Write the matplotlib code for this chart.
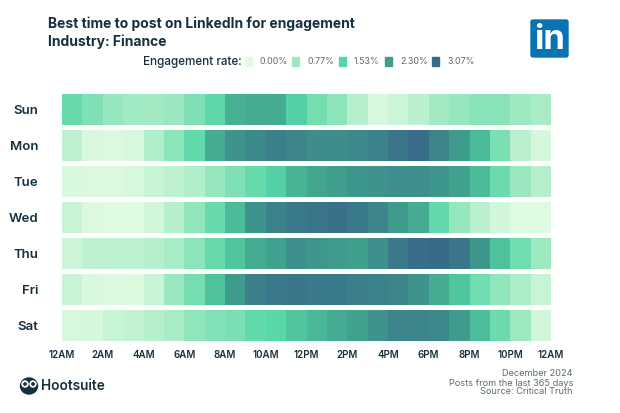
#!/usr/bin/env python3
"""LinkedIn best time to post heatmap, finance industry."""

import matplotlib.pyplot as plt
import numpy as np
from matplotlib.colors import LinearSegmentedColormap
from matplotlib.patches import Ellipse, FancyBboxPatch, Rectangle

FIG_W, FIG_H = 620, 413

days = ['Sun', 'Mon', 'Tue', 'Wed', 'Thu', 'Fri', 'Sat']
hour_labels = ['12AM', '2AM', '4AM', '6AM', '8AM', '10AM', '12PM', '2PM', '4PM', '6PM', '8PM', '10PM', '12AM']
legend_values = [0.00, 0.77, 1.53, 2.30, 3.07]
legend_labels = ['0.00%', '0.77%', '1.53%', '2.30%', '3.07%']
legend_colors = ['#E2FBE2', '#9DE8C0', '#56D6A6', '#3F9E8C', '#38698A']

# Engagement rate per hour
sun = [1.35, 1.10, 0.85, 0.72, 0.70, 0.80, 1.10, 1.45, 2.05, 2.10, 2.10, 1.60, 1.20, 0.95, 0.50, 0.12, 0.25, 0.45, 0.70, 0.85, 1.00, 1.00, 0.75, 0.65]
mon = [0.40, 0.10, 0.08, 0.12, 0.55, 0.95, 1.40, 2.10, 2.45, 2.60, 2.75, 2.65, 2.55, 2.55, 2.60, 2.70, 2.90, 3.00, 2.65, 2.35, 1.90, 1.15, 0.45, 0.15]
tue = [0.10, 0.08, 0.08, 0.12, 0.30, 0.40, 0.55, 0.85, 1.10, 1.35, 1.60, 2.00, 2.20, 2.30, 2.40, 2.45, 2.50, 2.50, 2.40, 2.25, 1.90, 1.30, 0.80, 0.50]
wed = [0.30, 0.08, 0.05, 0.05, 0.20, 0.50, 0.90, 1.35, 1.90, 2.45, 2.70, 2.85, 2.90, 2.95, 2.85, 2.65, 2.35, 2.10, 1.40, 0.85, 0.45, 0.20, 0.05, 0.05]
thu = [0.25, 0.40, 0.40, 0.42, 0.50, 0.65, 0.95, 1.35, 1.75, 2.10, 2.25, 2.50, 2.40, 2.35, 2.30, 2.50, 2.85, 3.00, 3.05, 2.90, 2.40, 1.80, 1.25, 0.75]
fri = [0.30, 0.10, 0.08, 0.06, 0.30, 0.80, 1.20, 1.80, 2.35, 2.75, 2.85, 2.90, 2.85, 2.85, 2.75, 2.70, 2.65, 2.45, 2.10, 1.75, 1.25, 0.90, 0.60, 0.30]
sat = [0.12, 0.15, 0.30, 0.35, 0.50, 0.65, 0.90, 1.05, 1.15, 1.40, 1.50, 1.75, 1.95, 2.10, 2.25, 2.45, 2.65, 2.65, 2.60, 2.35, 1.85, 1.30, 0.75, 0.20]
rates = [sun, mon, tue, wed, thu, fri, sat]

DARK = '#16303C'
GREY = '#5C6B73'
plt.rcParams['font.family'] = ['Inter', 'DejaVu Sans']


def px(x, y):
    """Pixel position in the reference to figure fraction."""
    return x / FIG_W, 1 - y / FIG_H


def main():
    fig = plt.figure(figsize=(FIG_W / 100, FIG_H / 100), dpi=100)

    cmap = LinearSegmentedColormap.from_list(
        'engagement', [(v / legend_values[-1], c) for v, c in zip(legend_values, legend_colors)])

    # Axes run half a gap past the first and last row
    ax = fig.add_axes([62 / FIG_W, 1 - 343.5 / FIG_H, 489 / FIG_W, 252 / FIG_H])
    for i, row in enumerate(rates):
        ax.pcolormesh(np.arange(25), [i + 0.07, i + 0.93], np.array([row]),
                      cmap=cmap, vmin=0, vmax=legend_values[-1], linewidth=0)
    ax.set_xlim(0, 24)
    ax.set_ylim(7, 0)
    ax.set_yticks(np.arange(7) + 0.5, days, fontsize=9.5, fontweight='semibold', color=DARK)
    ax.set_xticks(np.arange(0, 25, 2), hour_labels, fontsize=7, fontweight='semibold', color=DARK)
    ax.tick_params(length=0)
    ax.tick_params(axis='x', pad=5)
    ax.tick_params(axis='y', pad=17)
    for spine in ax.spines.values():
        spine.set_visible(False)

    # Titles
    fig.text(*px(48, 24), 'Best time to post on LinkedIn for engagement', fontsize=10,
             fontweight='bold', color=DARK, va='center')
    fig.text(*px(48, 42), 'Industry: Finance', fontsize=10, fontweight='bold', color=DARK, va='center')

    # Legend
    fig.text(*px(143, 62), 'Engagement rate:', fontsize=8.4, fontweight='medium', color=DARK, va='center')
    for x, label, color in zip([245, 292, 339, 385, 432], legend_labels, legend_colors):
        fig.add_artist(Rectangle(px(x, 66), 6.5 / FIG_W, 9 / FIG_H, color=color, transform=fig.transFigure))
        fig.text(*px(x + 15, 62), label, fontsize=6.4, color=GREY, va='center')

    # LinkedIn badge
    badge = fig.add_axes([0, 0, 1, 1], facecolor='none')
    badge.set_xlim(0, FIG_W)
    badge.set_ylim(FIG_H, 0)
    badge.axis('off')
    badge.add_patch(FancyBboxPatch((533, 22), 33, 33, boxstyle='round,pad=2', color='#0A73B1'))
    badge.text(549.5, 40, 'in', fontsize=25, fontweight='bold', color='white', ha='center', va='center')

    # Hootsuite owl
    badge.add_patch(Ellipse((29, 386), 17, 16, color=DARK))
    badge.add_patch(Ellipse((25, 384), 6, 6, color='white'))
    badge.add_patch(Ellipse((33, 384), 6, 6, color='white'))
    badge.add_patch(Ellipse((25, 384), 2.4, 2.4, color=DARK))
    badge.add_patch(Ellipse((33, 384), 2.4, 2.4, color=DARK))
    badge.text(41, 386, 'Hootsuite', fontsize=9.8, fontweight='semibold', color=DARK, va='center')

    # Footer
    for y, line in zip([373, 383, 392], ['December 2024', 'Posts from the last 365 days', 'Source: Critical Truth']):
        fig.text(*px(573, y), line, fontsize=6.6, color=GREY, ha='right', va='center')

    fig.savefig('out.png', dpi=100)
    plt.close(fig)


if __name__ == '__main__':
    main()
